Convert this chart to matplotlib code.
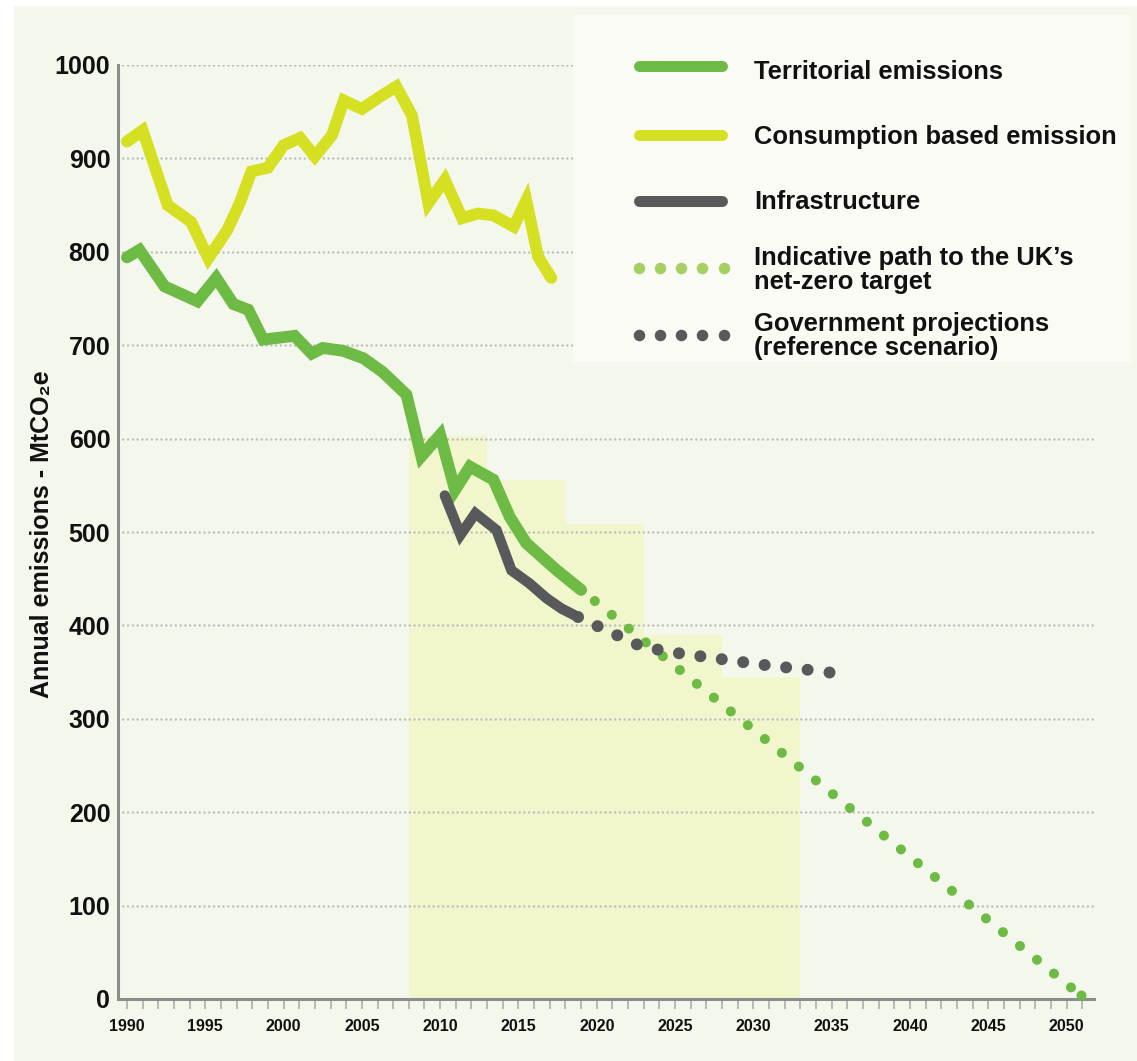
import numpy as np
import matplotlib
matplotlib.use('Agg')
import matplotlib.pyplot as plt
from matplotlib.patches import Rectangle
from matplotlib.lines import Line2D

plt.rcParams['font.family'] = ['Liberation Sans', 'DejaVu Sans']
plt.rcParams['font.weight'] = 'bold'

# ---- data (MtCO2e) ----
terr_years = [1990, 1990.8, 1992.4, 1994.5, 1995.7, 1996.8, 1997.75, 1998.7, 2000.7, 2001.8,
              2002.5, 2003.8, 2005.1, 2006.35, 2007.85, 2008.8, 2010.0, 2010.95, 2011.9,
              2013.4, 2014.45, 2015.5, 2017.45, 2019.0]
terr_vals = [794, 802, 763, 747, 772, 744, 738, 706, 710, 691,
             697, 694, 686, 671, 647, 581, 604, 545, 570,
             556, 516, 488, 459, 438]

cons_years = [1990, 1991.0, 1992.6, 1994.1, 1995.2, 1996.4, 1997.2, 1997.95, 1999.0, 2000.0,
              2001.05, 2002.0, 2003.1, 2003.85, 2005.0, 2006.15, 2007.2, 2008.2, 2009.25,
              2010.3, 2011.4, 2012.4, 2013.4, 2014.7, 2015.5, 2015.85, 2016.25, 2016.8, 2017.1]
cons_vals = [918, 930, 850, 832, 793, 823, 852, 886, 890, 914,
             922, 902, 925, 962, 953, 966, 977, 946, 852,
             877, 836, 841, 839, 827, 855, 827, 795, 780, 772]

infra_years = [2010.3, 2011.3, 2012.25, 2013.6, 2014.55, 2015.7, 2016.8, 2017.75, 2018.8]
infra_vals = [539, 497, 520, 502, 459, 445, 429, 418, 409]

netzero_years = [2019.0, 2050.9]
netzero_vals = [438, 4]

gov_years = [2018.8, 2022.9, 2025.3, 2027.9, 2030.5, 2034.8]
gov_vals = [409, 377, 370, 364, 358, 350]

budget_start = [2008, 2013, 2018, 2023, 2028]
budget_vals = [603, 556, 509, 390, 345]

legend_labels = ['Territorial emissions', 'Consumption based emission', 'Infrastructure',
                 'Indicative path to the UK\u2019s\nnet-zero target',
                 'Government projections\n(reference scenario)']

# ---- colours ----
BG = '#F4F8EC'
LEG_BG = '#FAFBF4'
BUDGET = '#F2F6CC'
GREEN = '#6DBB44'
LIGHT_GREEN = '#A6D162'
YELLOW = '#D6E023'
DARK = '#58595B'
GRID = '#BDBDBD'
AXIS = '#8C8C8C'
TXT = '#111111'

W, H = 1137, 1061
fig = plt.figure(figsize=(W / 100, H / 100), dpi=100)
fig.patch.set_facecolor('white')
fig.add_artist(Rectangle((14 / W, 0), 1 - 14 / W, 1 - 6 / H, transform=fig.transFigure,
                         facecolor=BG, edgecolor='none', zorder=-5))

ax = fig.add_axes([118 / W, 1 - 999 / H, (1094 - 118) / W, (999 - 65) / H])
ax.set_facecolor('none')
ax.set_xlim(1989.43, 2051.75)
ax.set_ylim(0, 1000)

for s in ['top', 'right']:
    ax.spines[s].set_visible(False)
for s in ['left', 'bottom']:
    ax.spines[s].set_color(AXIS)
    ax.spines[s].set_linewidth(2.2)
    ax.spines[s].set_zorder(2)

# carbon budgets
ax.bar(budget_start, budget_vals, width=5, align='edge', color=BUDGET, linewidth=0, zorder=0.5)

# dotted grid
for v in range(100, 1001, 100):
    ax.axhline(v, color=GRID, lw=1.8, linestyle=(0, (0.01, 1.9)), dash_capstyle='round',
               zorder=1)

# series
ax.plot(cons_years, cons_vals, color=YELLOW, lw=8.5, solid_capstyle='round',
        solid_joinstyle='miter', zorder=4)
ax.plot(terr_years, terr_vals, color=GREEN, lw=8.5, solid_capstyle='round',
        solid_joinstyle='miter', zorder=4)
ax.plot(infra_years, infra_vals, color=DARK, lw=7.5, solid_capstyle='round',
        solid_joinstyle='miter', zorder=4)
ax.plot(netzero_years, netzero_vals, color=GREEN, lw=7.2, linestyle=(0.43, (0.01, 2.18)),
        dash_capstyle='round', clip_on=False, zorder=3)
ax.plot(netzero_years[-1:], netzero_vals[-1:], 'o', color=GREEN, ms=7.2, mew=0,
        clip_on=False, zorder=3)
ax.plot(gov_years, gov_vals, color=DARK, lw=8.6, linestyle=(0, (0.01, 1.8)),
        dash_capstyle='round', zorder=3)
ax.plot(gov_years[-1:], gov_vals[-1:], 'o', color=DARK, ms=8.6, mew=0, zorder=3)

# ticks
ax.set_yticks(range(0, 1001, 100))
ax.tick_params(axis='y', length=0, pad=5.5, labelsize=18, labelcolor=TXT)
ax.set_xticks(range(1990, 2051, 5))
ax.set_xticks(range(1990, 2052), minor=True)
ax.tick_params(axis='x', which='both', length=7.2, width=1.4, color='#B8B8B8',
               direction='out', pad=7, labelsize=11.5, labelcolor=TXT)
for lab in ax.get_xticklabels() + ax.get_yticklabels():
    lab.set_fontweight('bold')

fig.text(42 / W, 1 - 534 / H, 'Annual emissions - MtCO\u2082e', rotation=90, fontsize=18,
         fontweight='bold', ha='center', va='center', color=TXT)

# legend panel
fig.add_artist(Rectangle((573 / W, 1 - 362 / H), (1131 - 573) / W, (362 - 15) / H,
                         transform=fig.transFigure, facecolor=LEG_BG, edgecolor='none',
                         zorder=5))
row_y = [66, 135, 201, 268, 335]
text_y = [72, 137, 202, 270, 336]
solid_cols = [GREEN, YELLOW, DARK]
for i in range(3):
    fig.add_artist(Line2D([638.5 / W, 721.5 / W], [1 - row_y[i] / H] * 2,
                          transform=fig.transFigure, color=solid_cols[i], lw=7.9,
                          solid_capstyle='round', zorder=6))
dot_x = np.linspace(638.5, 723.8, 5) / W
for i, col in zip([3, 4], [LIGHT_GREEN, DARK]):
    fig.add_artist(Line2D(dot_x, [1 - row_y[i] / H] * 5, transform=fig.transFigure,
                          linestyle='none', marker='o', ms=8.3, mew=0, color=col, zorder=6))
for i in range(5):
    fig.text(754 / W, 1 - text_y[i] / H, legend_labels[i], fontsize=18.4, fontweight='bold',
             ha='left', va='center', color=TXT, linespacing=1.05, zorder=7)

fig.savefig('out.png', dpi=100, facecolor=fig.get_facecolor())
plt.close(fig)
